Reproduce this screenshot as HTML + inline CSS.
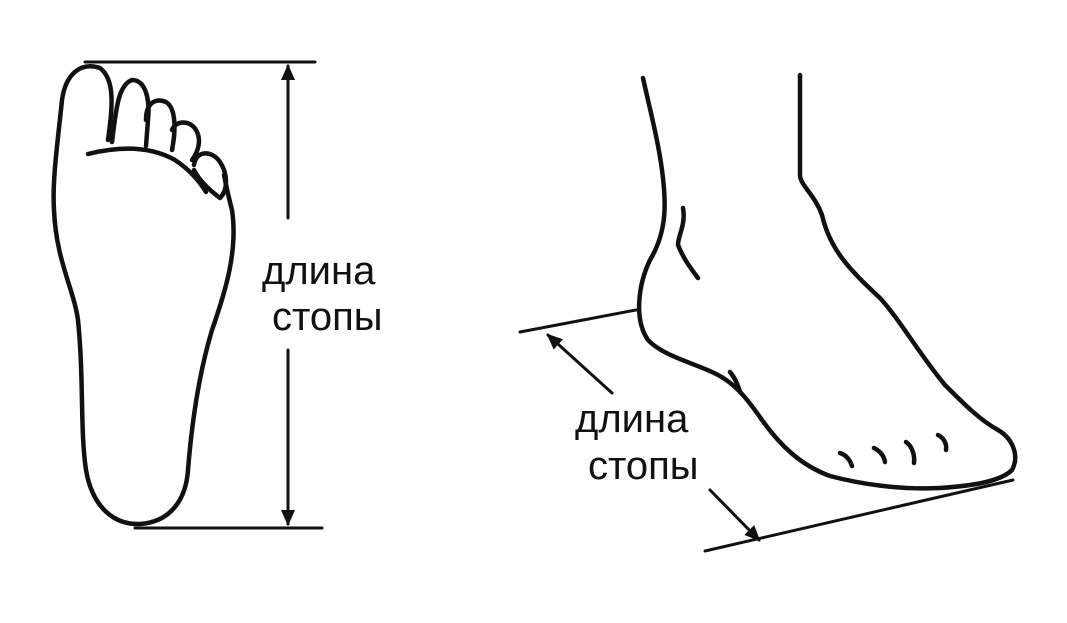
<!DOCTYPE html>
<html><head><meta charset="utf-8"><style>
html,body{margin:0;padding:0;background:#fff;}
svg{display:block;}
text{font-family:"Liberation Sans",sans-serif;font-size:40px;fill:#111;}
</style></head><body>
<svg width="1067" height="623" viewBox="0 0 1067 623" xmlns="http://www.w3.org/2000/svg">
<defs>
<marker id="ah" markerWidth="16" markerHeight="14" refX="14" refY="7" orient="auto" markerUnits="userSpaceOnUse">
<path d="M0,0 L16,7 L0,14 Z" fill="#111"/></marker>
</defs>
<g fill="none" stroke="#111" stroke-width="4.5" stroke-linecap="round" stroke-linejoin="round">
<path d="M108,140 C112,110 116,80 100,68 C82,62 66,72 62,100 C58,140 52,180 54,210 C56,260 74,290 78,320 C84,380 80,430 86,470 C92,505 112,525 140,524 C170,522 186,500 188,470 C192,420 200,370 212,330 C226,290 238,250 232,210 C228,195 226,185 224,175"/>
<path d="M88,154 C120,146 150,146 175,160 C190,170 200,182 206,192"/>
<path d="M112,142 C116,110 118,85 132,80 C146,80 150,100 148,120 L146,146"/>
<path d="M146,120 C146,102 156,98 166,102 C176,108 176,130 172,150"/>
<path d="M172,130 C176,120 190,120 196,130 C202,140 198,152 192,160"/>
<path d="M194,165 C196,150 212,150 220,162 C228,174 228,190 220,198 C212,192 200,182 194,170"/>
<line x1="85" y1="62" x2="315" y2="62" stroke-width="3"/>
<line x1="135" y1="528" x2="322" y2="528" stroke-width="3"/>
<line x1="288" y1="218" x2="288" y2="66" stroke-width="3" marker-end="url(#ah)"/>
<line x1="288" y1="350" x2="288" y2="524" stroke-width="3" marker-end="url(#ah)"/>
<path d="M643,78 C650,110 658,140 662,170 C666,200 668,230 650,260 C638,285 634,320 648,340 C662,355 690,362 712,372 C735,382 748,400 762,420 C780,445 800,465 830,476 C860,484 900,490 940,488 C970,486 1000,482 1012,470 C1020,455 1012,438 998,430 C980,420 965,405 945,385 C920,355 900,320 880,298 C850,270 830,250 822,215 C815,195 800,185 800,175 L800,75"/>
<path d="M683,208 C686,225 678,235 678,245 C684,260 692,270 698,278"/>
<path d="M730,372 C735,378 738,385 740,392"/>
<path d="M840,453 C846,455 850,460 852,466"/>
<path d="M874,448 C880,451 884,456 885,462"/>
<path d="M906,442 C912,446 915,455 914,463"/>
<path d="M938,435 C944,438 947,444 946,450"/>
<line x1="520" y1="332" x2="636" y2="310" stroke-width="3"/>
<line x1="705" y1="551" x2="1013" y2="480" stroke-width="3"/>
<line x1="612" y1="393" x2="548" y2="335" stroke-width="3" marker-end="url(#ah)"/>
<line x1="710" y1="490" x2="759" y2="540" stroke-width="3" marker-end="url(#ah)"/>
</g>
<text x="262" y="284">длина</text>
<text x="272" y="330">стопы</text>
<text x="575" y="432">длина</text>
<text x="588" y="479">стопы</text>
</svg>
</body></html>
